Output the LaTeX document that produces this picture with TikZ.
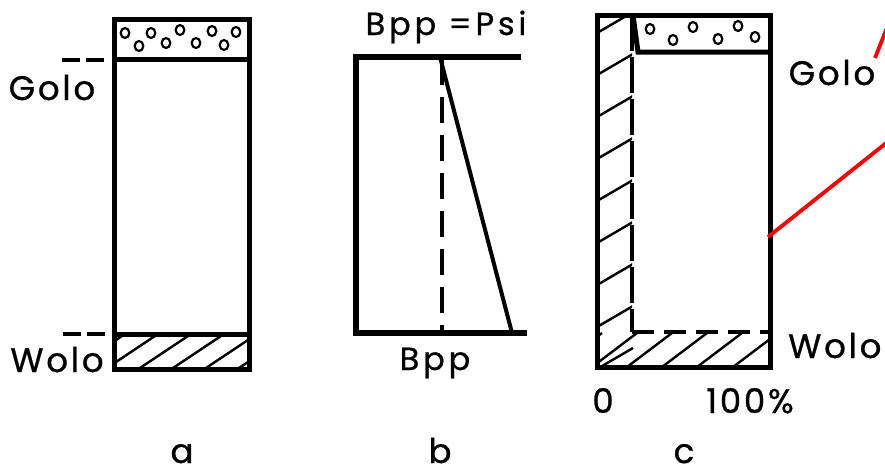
\documentclass[tikz,border=0pt]{standalone}
\usepackage{fontspec}
\setmainfont{Poppins}
\newfontfamily\labfont[LetterSpace=8,FakeBold=0.8]{Poppins}
\newfontfamily\labfontw[LetterSpace=12,FakeBold=0.8]{Poppins}
\begin{document}
\begin{tikzpicture}[x=1pt,y=-1pt,
  lbl/.style={font=\labfont\fontsize{34}{34}\selectfont, inner sep=0pt, anchor=base},
  lblb/.style={font=\labfontw\fontsize{32}{32}\selectfont, inner sep=0pt, anchor=base},
  thick box/.style={line width=5pt, line join=miter},
  hatch/.style={line width=2.4pt},
  pebble/.style={line width=2.2pt, x radius=4.3, y radius=5},
  tick dash/.style={line width=3.4pt, dash pattern=on 18pt off 6pt},
  redline/.style={red, line width=3.8pt}]
\useasboundingbox (0,0) rectangle (885,474);

% ---------- panel a ----------
\coordinate (aTL) at (114,19);
\coordinate (aBR) at (249,369);
\begin{scope}
  \clip (115,334) rectangle (248,369);
  \foreach \x in {71,104,137,170,203,236,269}
    \draw[hatch] (\x,370) -- ++(54,-36);
\end{scope}
\draw[thick box] (aTL) rectangle (aBR);
\draw[thick box] (114,59) -- (249,59);
\draw[thick box] (114,334) -- (249,334);
\foreach \px/\py in {125/33,151/33,180/30,212/31,236/32,139/46,166/43,196/43,224/45}
  \draw[pebble] (\px,\py) ellipse [];
\coordinate (aG1) at (62,60);
\coordinate (aG2) at (108,60);
\coordinate (aW1) at (63,334);
\coordinate (aW2) at (109,334);
\draw[tick dash] (aG1) -- (aG2);
\draw[tick dash] (aW1) -- (aW2);
\node[lbl] (golA) at (52,100) {Golo};
\node[lbl] (wolA) at (57,372) {Wolo};
\node[lbl] (labA) at (182,463) {a};

% ---------- panel b ----------
\coordinate (bTL) at (356,57);
\coordinate (bTR) at (521,57);
\coordinate (bBL) at (356,333);
\coordinate (bBR) at (527,333);
\draw[line width=5.5pt, line join=miter] (bTR) -- (bTL) -- (bBL) -- (bBR);
\draw[line width=4.5pt, dash pattern=on 26pt off 12pt] (442,59) -- (442,333);
\draw[line width=4pt] (440,57) -- (512,333);
\node[lblb] (bTop) at (446,35) {Bpp =Psi};
\node[lblb] (bBot) at (435,370) {Bpp};
\node[lbl] (labB) at (440,463) {b};

% ---------- panel c ----------
\begin{scope}
  \clip (597,15) rectangle (632,367) (632,332) rectangle (770,367);
  \foreach \y in {33,75,117,159,201,243,285,327,369}
    \draw[hatch] (597,\y) -- ++(36,-21);
  \foreach \x in {557,592,627,662,697,733,768}
    \draw[hatch] (\x,367) -- ++(45,-34);
\end{scope}
\draw[thick box] (597,15) rectangle (770,367);
\draw[line width=4pt, dash pattern=on 36pt off 6pt] (632,15) -- (632,332);
\draw[line width=4pt, dash pattern=on 22pt off 10pt] (632,332) -- (770,332);
\draw[thick box] (633,15) -- (638,52) -- (770,52);
\foreach \px/\py in {650/29,673/40,693/27,718/39,738/26,755/37}
  \draw[pebble] (\px,\py) ellipse [];
\node[lbl] (golC) at (832,85) {Golo};
\node[lbl, anchor=base west] (wolC) at (788,358) {Wolo};
\node[lbl] (zeroC) at (603,413) {0};
\node[lbl] (hundC) at (750,413) {100\%};
\node[lbl] (labC) at (684,463) {c};

% red annotation lines
\coordinate (r1a) at (768,237);
\coordinate (r1b) at (895,136);
\coordinate (r2a) at (875,58);
\coordinate (r2b) at (890,20);
\draw[redline] (r1a) -- (r1b);
\draw[redline] (r2a) -- (r2b);
\end{tikzpicture}
\end{document}
